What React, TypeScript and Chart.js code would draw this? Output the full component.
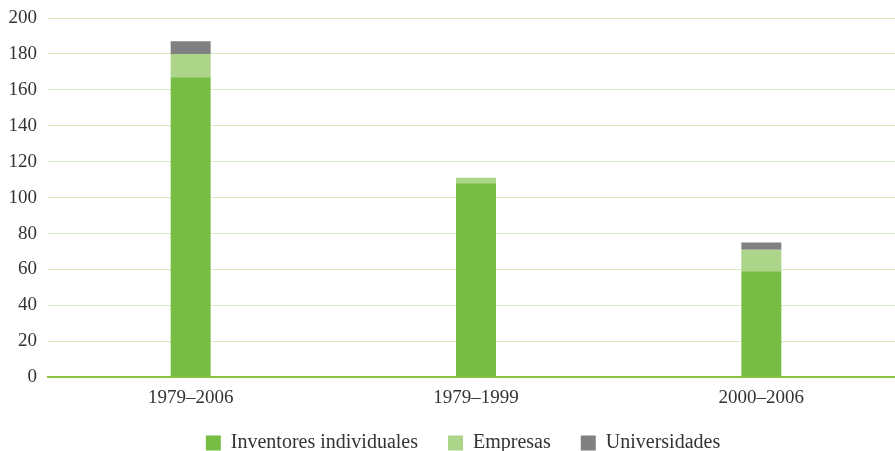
import React, { useEffect, useRef } from "react";
import { Chart, registerables } from "chart.js";

Chart.register(...registerables);

const categories = ["1979–2006", "1979–1999", "2000–2006"];
const inventores = [167, 108, 59];
const empresas = [13, 3, 12];
const universidades = [7, 0, 4];
const yTicks = [0, 20, 40, 60, 80, 100, 120, 140, 160, 180, 200];

const FONT = "'Liberation Serif', serif";
const X_SHRINK = 15;
const LEGEND_SHIFT = 11;

const layoutTweaks = {
  id: "layoutTweaks",
  afterLayout(chart: any) {
    const x = chart.scales.x;
    if (x) x.bottom = x.top + x.height + X_SHRINK;
    const lg = chart.legend;
    if (lg) {
      lg.left += LEGEND_SHIFT;
      lg.right += LEGEND_SHIFT;
    }
  },
};

export default function App() {
  const ref = useRef<HTMLCanvasElement | null>(null);
  useEffect(() => {
    document.body.style.margin = "0";
    const ctx = ref.current!;
    const chart = new Chart(ctx, {
      type: "bar",
      data: {
        labels: categories,
        datasets: [
          { label: "Inventores individuales", data: inventores, backgroundColor: "#77bd43" },
          { label: "Empresas", data: empresas, backgroundColor: "#acd58a" },
          { label: "Universidades", data: universidades, backgroundColor: "#808083" },
        ],
      },
      options: {
        animation: false,
        responsive: false,
        maintainAspectRatio: false,
        layout: { padding: { left: 0, right: 0, top: 18, bottom: -12 } },
        datasets: { bar: { barPercentage: 0.14, categoryPercentage: 1 } },
        plugins: {
          tooltip: { enabled: false },
          legend: {
            position: "bottom",
            labels: {
              boxWidth: 15,
              boxHeight: 15,
              padding: 30,
              color: "#333",
              font: { family: FONT, size: 20 },
            },
          },
        },
        scales: {
          x: {
            stacked: true,
            grid: { display: false, drawTicks: false },
            border: { color: "#8cc63f", width: 2 },
            ticks: { color: "#333", font: { family: FONT, size: 19 }, padding: 9 },
            afterFit: (scale: any) => {
              scale.height -= X_SHRINK;
            },
          },
          y: {
            stacked: true,
            min: 0,
            max: 200,
            afterBuildTicks: (axis: any) => {
              axis.ticks = yTicks.map((v) => ({ value: v }));
            },
            afterFit: (scale: any) => {
              scale.width = 48;
              scale.paddingTop = 0;
            },
            grid: { color: "#d6ecc2", drawTicks: false, lineWidth: 1 },
            border: { display: false },
            ticks: { color: "#333", font: { family: FONT, size: 19 }, padding: 11 },
          },
        },
      },
      plugins: [layoutTweaks],
    });
    return () => chart.destroy();
  }, []);
  return (
    <div style={{ position: "absolute", left: 0, top: 0, width: 895, height: 451, overflow: "hidden" }}>
      <canvas ref={ref} width={904} height={451} />
    </div>
  );
}
